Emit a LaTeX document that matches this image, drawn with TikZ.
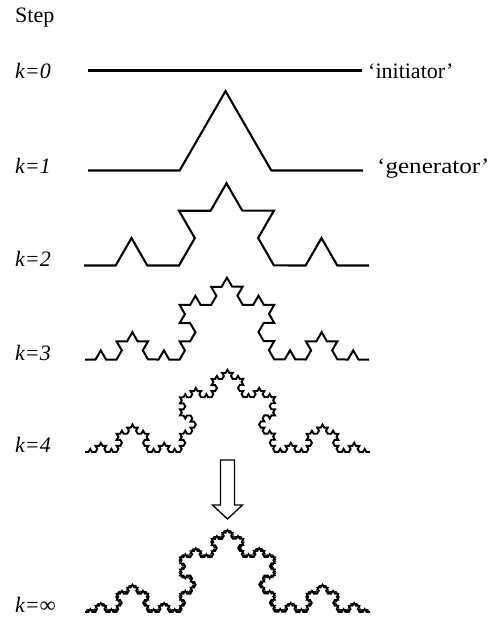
\documentclass[tikz,border=0pt]{standalone}
\usepackage{fontspec}
\setmainfont{Liberation Serif}
\usetikzlibrary{decorations.fractals}
\begin{document}
\begin{tikzpicture}[x=1pt,y=-1pt,
  curve/.style={line width=2.1pt, line join=miter, decoration=Koch snowflake},
  lab/.style={anchor=base west, inner sep=0pt, font=\fontsize{22}{26}\selectfont\itshape},
  note/.style={anchor=base west, inner sep=0pt, font=\fontsize{22}{26}\selectfont}]
\useasboundingbox (0,0) rectangle (489,621);
\node[note] (step) at (15,23) {Step};
% k = 0
\coordinate (a0) at (88,70.5); \coordinate (b0) at (362,70.5);
\draw[curve] (a0) -- (b0);
\node[lab] (k0) at (15,78) {k=0};
\node[note] (init) at (368,78) {‘initiator’};
% k = 1
\coordinate (a1) at (88,170.5); \coordinate (b1) at (363,170.5);
\draw[curve] decorate{(a1) -- (b1)};
\node[lab] (k1) at (15,173) {k=1};
\node[note] (gen) at (377,173) {\scalebox{1.14}[1]{‘generator’}};
% k = 2
\coordinate (a2) at (84,265.5); \coordinate (b2) at (369,265.5);
\draw[curve] decorate{decorate{(a2) -- (b2)}};
\node[lab] (k2) at (15,266) {k=2};
% k = 3
\coordinate (a3) at (85,359.5); \coordinate (b3) at (369,359.5);
\draw[curve, line width=2pt] decorate{decorate{decorate{(a3) -- (b3)}}};
\node[lab] (k3) at (15,360) {k=3};
% k = 4
\coordinate (a4) at (85,452); \coordinate (b4) at (370,452);
\draw[curve, line width=1.9pt] decorate{decorate{decorate{decorate{(a4) -- (b4)}}}};
\node[lab] (k4) at (15,452) {k=4};
% arrow
\draw[line width=1.3pt, line join=miter, fill=white]
  (220.5,460) -- (234.5,460) -- (234.5,505) -- (242.5,505) -- (227.5,519)
  -- (212.5,505) -- (220.5,505) -- cycle;
% k = infinity
\coordinate (a5) at (85,612); \coordinate (b5) at (370,612);
\draw[curve, line width=1.6pt] decorate{decorate{decorate{decorate{decorate{(a5) -- (b5)}}}}};
\node[lab] (k5) at (15,612) {k=∞};
\end{tikzpicture}
\end{document}
